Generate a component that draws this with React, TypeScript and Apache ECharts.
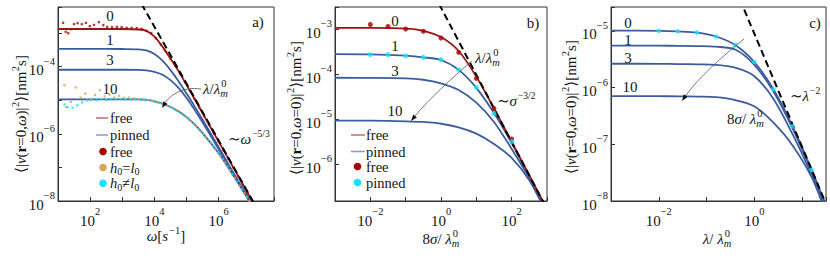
import React, { useEffect, useRef } from 'react';
import * as echarts from 'echarts';

// ---------------- data (log10 values) ----------------
// Panel a: log10(omega) and log10(<|v|^2>)
const aLogOmega = [1, 2, 3, 3.5, 3.75, 4, 4.25, 4.5, 4.75, 5, 5.25, 5.5, 6, 6.5, 7, 7.2];
const aFree0 = [-2.875, -2.875, -2.876, -2.89, -2.93, -3.1, -3.4, -3.76, -4.13, -4.54, -4.96, -5.39, -6.23, -7.08, -7.93, -8.27];
const aPinned1 = [-3.47, -3.47, -3.472, -3.48, -3.51, -3.62, -3.82, -4.1, -4.43, -4.8, -5.18, -5.58, -6.4, -7.23, -8.02, -8.36];
const aPinned3 = [-4.09, -4.09, -4.09, -4.095, -4.11, -4.15, -4.24, -4.4, -4.63, -4.93, -5.28, -5.66, -6.46, -7.27, -8.05, -8.39];
const aPinned10 = [-4.97, -4.97, -4.97, -4.975, -4.99, -5.03, -5.1, -5.2, -5.33, -5.5, -5.72, -5.98, -6.58, -7.31, -8.08, -8.4];
const aDashedLogOmega = [3.6, 7.1];
const aDashed = [-2.13, -8.07];

const aFreeDotsLogOmega = [1.16, 1.24, 1.32, 1.4, 1.5, 1.61, 1.74, 1.87, 1.99, 2.12, 2.27, 2.41, 2.53, 2.68, 2.83, 2.98, 3.14, 3.29, 3.45, 3.6,
  3.75, 3.9, 4.05, 4.2, 4.35, 4.5, 4.65, 4.8, 4.95, 5.1, 5.25, 5.4, 5.55, 5.7, 5.85, 6.0, 6.15, 6.3, 6.45, 6.6, 6.75, 6.9, 7.05];
const aFreeDots = [-2.69, -2.96, -3.0, -2.88, -2.73, -2.7, -2.73, -2.69, -2.79, -2.75, -2.67, -2.76, -2.81, -2.82, -2.81, -2.82, -2.84, -2.84, -2.85, -2.87,
  -2.93, -3.0, -3.15, -3.34, -3.54, -3.76, -3.98, -4.21, -4.46, -4.71, -4.96, -5.22, -5.47, -5.73, -5.98, -6.23, -6.49, -6.74, -7.0, -7.25, -7.51, -7.76, -8.01];

const aEqDotsLogOmega = [1.2, 1.25, 1.4, 1.55, 1.7, 1.85, 2.0, 2.15, 2.3, 2.45, 2.6, 2.75, 2.9, 3.05, 3.2, 3.35, 3.5, 3.65,
  3.8, 3.95, 4.1, 4.25, 4.4, 4.55, 4.7, 4.85, 5.0, 5.15, 5.3, 5.45, 5.6, 5.75, 5.9, 6.05, 6.2, 6.35, 6.5, 6.65, 6.8, 6.95];
const aEqDots = [-4.55, -5.2, -5.05, -4.62, -4.92, -4.8, -5.0, -4.84, -4.7, -4.88, -4.83, -4.92, -4.87, -4.93, -4.92, -4.95, -4.96, -4.97,
  -4.99, -5.02, -5.06, -5.1, -5.16, -5.22, -5.31, -5.4, -5.5, -5.63, -5.77, -5.93, -6.1, -6.28, -6.46, -6.65, -6.86, -7.08, -7.31, -7.54, -7.77, -8.0];

const aNeqDotsLogOmega = [1.2, 1.3, 1.45, 1.6, 1.75, 1.9, 2.05, 2.2, 2.35, 2.5, 2.65, 2.8, 2.95, 3.1, 3.25, 3.4, 3.55, 3.7,
  3.875, 4.025, 4.175, 4.325, 4.475, 4.625, 4.775, 4.925, 5.075, 5.225, 5.375, 5.525, 5.675, 5.825, 5.975, 6.125, 6.275, 6.425, 6.575, 6.725, 6.875];
const aNeqDots = [-5.12, -5.2, -5.22, -5.15, -5.06, -5.0, -4.97, -5.0, -4.96, -4.98, -4.96, -4.97, -4.96, -4.97, -4.97, -4.97, -4.98, -4.98,
  -5.0, -5.04, -5.08, -5.13, -5.19, -5.26, -5.35, -5.45, -5.56, -5.7, -5.85, -6.01, -6.19, -6.37, -6.56, -6.75, -6.97, -7.2, -7.42, -7.65, -7.88];

// Panel b: log10(8 sigma / lambda_m^0)
const bLogSigma = [-3, -2, -1, -0.5, 0, 0.5, 1, 1.5, 2, 2.5, 3];
const bFree0 = [-2.965, -2.966, -2.98, -3.03, -3.17, -3.48, -4.05, -4.76, -5.5, -6.25, -7.0];
const bPinned1 = [-3.55, -3.555, -3.585, -3.62, -3.68, -3.9, -4.3, -4.86, -5.53, -6.27, -7.03];
const bPinned3 = [-4.075, -4.078, -4.09, -4.12, -4.2, -4.35, -4.63, -5.06, -5.66, -6.31, -7.06];
const bPinned10 = [-5.03, -5.032, -5.045, -5.06, -5.1, -5.18, -5.32, -5.55, -5.86, -6.36, -7.12];
const bDashedLogSigma = [-0.05, 3];
const bDashed = [-2.44, -7.0];
const bDotsLogSigma = [-2, -1.5, -1, -0.5, 0, 0.5, 1, 1.5, 2];
const bFreeDots = [-2.89, -2.93, -2.99, -3.04, -3.19, -3.51, -4.09, -4.76, -5.44];
const bPinnedDots = [-3.56, -3.56, -3.59, -3.62, -3.67, -3.9, -4.29, -4.87, -5.5];

// Panel c: log10(lambda / lambda_m^0)
const cLogLambda = [-3, -2, -1.6, -1.2, -0.8, -0.4, 0, 0.4, 0.8, 1.2, 1.5];
const c0 = [-4.995, -5.0, -5.01, -5.03, -5.1, -5.25, -5.55, -6.03, -6.68, -7.45, -8.08];
const c1 = [-5.26, -5.262, -5.264, -5.268, -5.28, -5.33, -5.6, -6.07, -6.72, -7.48, -8.11];
const c3 = [-5.58, -5.582, -5.586, -5.59, -5.6, -5.65, -5.8, -6.2, -6.82, -7.54, -8.16];
const c10 = [-6.15, -6.152, -6.155, -6.16, -6.17, -6.22, -6.33, -6.62, -7.02, -7.58, -8.22];
const cDashedLogLambda = [-0.3, 1.5];
const cDashed = [-4.45, -8.05];
const cDotsLogLambda = [-2, -1.6, -1.2, -0.8, -0.4, 0, 0.4, 0.8, 1.2];
const cDots = [-5.0, -5.01, -5.03, -5.1, -5.25, -5.55, -6.03, -6.68, -7.45];

// ---------------- styling helpers ----------------
const FAMILY = "'Liberation Serif', 'DejaVu Serif', serif";
const INK = '#151515';
const RED = '#9a1414';
const BLUE = '#3d5c9e';
const RED_DOT = '#a80000';
const ORANGE = '#d9a552';
const CYAN = '#12e2ff';

let mctx: CanvasRenderingContext2D | null = null;
const fontStr = (size: number, it: boolean, bold: boolean) => `${it ? 'italic ' : ''}${bold ? 'bold ' : ''}${size}px ${FAMILY}`;
function tw(t: string, size: number, it: boolean, bold: boolean) {
  if (!mctx) mctx = document.createElement('canvas').getContext('2d');
  if (!mctx) return t.length * size * 0.5;
  mctx.font = fontStr(size, it, bold);
  return mctx.measureText(t).width;
}

type Seg = { t: string; i?: boolean; b?: boolean; sup?: string; sub?: string; ss?: number };
function math(x: number, y: number, segs: Seg[], size = 15, align: 'left' | 'center' | 'right' = 'left', rotation = 0): any {
  const small = size * 0.7;
  const items: any[] = [];
  let cx = 0;
  for (const s of segs) {
    if (s.t) {
      items.push({ t: s.t, x: cx, y: 0, size, it: !!s.i, bold: !!s.b });
      cx += tw(s.t, size, !!s.i, !!s.b);
    }
    let adv = 0;
    const sz = s.ss ?? small;
    if (s.sup) {
      const ox = s.i ? 1 : 0.5;
      items.push({ t: s.sup, x: cx + ox, y: -size * 0.36, size: sz, it: false, bold: false });
      adv = Math.max(adv, tw(s.sup, sz, false, false) + ox);
    }
    if (s.sub) {
      const it = /[a-z]/i.test(s.sub);
      items.push({ t: s.sub, x: cx, y: size * 0.3, size: small, it, bold: false });
      adv = Math.max(adv, tw(s.sub, small, it, false));
    }
    cx += adv;
  }
  const off = align === 'center' ? -cx / 2 : align === 'right' ? -cx : 0;
  return {
    type: 'group', x, y, rotation, silent: true, z: 100,
    children: items.map((it) => ({
      type: 'text', x: it.x + off, y: it.y, z: 100,
      style: {
        text: it.t, fill: INK, fontFamily: FAMILY, fontSize: it.size,
        fontStyle: it.it ? 'italic' : 'normal', fontWeight: it.bold ? 'bold' : 'normal',
        textAlign: 'left', textVerticalAlign: 'middle',
      },
    })),
  };
}

function arrow(x1: number, y1: number, cx1: number, cy1: number, cx2: number, cy2: number, x2: number, y2: number): any[] {
  const ang = Math.atan2(y2 - cy2, x2 - cx2);
  const L = 6.5, W = 2.3;
  const bx = x2 - L * Math.cos(ang), by = y2 - L * Math.sin(ang);
  const px = -Math.sin(ang) * W, py = Math.cos(ang) * W;
  return [
    { type: 'bezierCurve', silent: true, z: 90, shape: { x1, y1, cpx1: cx1, cpy1: cy1, cpx2: cx2, cpy2: cy2, x2: bx, y2: by }, style: { stroke: '#555', lineWidth: 0.8, fill: 'none' } },
    { type: 'polygon', silent: true, z: 90, shape: { points: [[x2, y2], [bx + px, by + py], [bx - px, by - py]] }, style: { fill: '#111' } },
  ];
}

const expLabel = (every: number) => (v: number) => {
  const r = Math.round(v);
  if (Math.abs(v - r) > 1e-6 || r % every !== 0) return '';
  const e = r < 0 ? '\u2212' + Math.abs(r) : String(r);
  return `{b|10}{s|${e}}`;
};
const labelRich = {
  b: { fontFamily: FAMILY, fontSize: 15, color: INK, lineHeight: 22, verticalAlign: 'bottom' },
  s: { fontFamily: FAMILY, fontSize: 10.5, color: INK, lineHeight: 11, verticalAlign: 'top' },
};
const axisCommon = {
  type: 'value',
  axisLine: { show: true, onZero: false, lineStyle: { color: '#333', width: 1 } },
  axisTick: { show: true, inside: true, length: 4, lineStyle: { color: '#333', width: 1 } },
  splitLine: { show: false },
};

const pairs = (xs: number[], ys: number[]) => xs.map((x, i) => [x, ys[i]]);
const lineS = (g: number, xs: number[], ys: number[], color: string, width = 1.8, dashed = false, z = 3) => ({
  type: 'line', xAxisIndex: g, yAxisIndex: g, data: pairs(xs, ys), smooth: 0.3,
  symbol: 'none', silent: true, z, lineStyle: { color, width, type: dashed ? [7, 4] : 'solid' },
});
const dotS = (g: number, xs: number[], ys: number[], color: string, size: number, symbol = 'circle') => ({
  type: 'scatter', xAxisIndex: g, yAxisIndex: g, data: pairs(xs, ys), symbol, symbolSize: size,
  silent: true, z: 6, itemStyle: { color },
});

const yNameSegs = (w0: boolean): Seg[] => [
  { t: '\u27E8|' }, { t: 'v', i: true }, { t: '(' }, { t: 'r', b: true }, { t: '=0,' }, { t: '\u03C9', i: true },
  { t: w0 ? '=0)|' : ')|', sup: '2' }, { t: '\u27E9[nm', sup: '2' }, { t: 's]' },
];
const lamRatio: Seg[] = [{ t: '\u03BB', i: true }, { t: '/' }, { t: '\u03BB', i: true, sup: '0', sub: 'm' }];

function buildOption(): any {
  const graphics: any[] = [
    // y axis names
    math(21, 114, yNameSegs(false), 15, 'center', Math.PI / 2),
    math(296, 108, yNameSegs(true), 15, 'center', Math.PI / 2),
    math(571, 107, yNameSegs(true), 15, 'center', Math.PI / 2),
    // x axis names
    math(166, 236, [{ t: '\u03C9', i: true }, { t: '[' }, { t: 's', i: true, sup: '\u22121' }, { t: ']' }], 15, 'center'),
    math(441, 239, [{ t: '8' }, { t: '\u03C3', i: true }, { t: '/ ' }, { t: '\u03BB', i: true, sup: '0', sub: 'm' }], 15, 'center'),
    math(717, 239, [{ t: '\u03BB', i: true }, { t: '/ ' }, { t: '\u03BB', i: true, sup: '0', sub: 'm' }], 15, 'center'),
    // panel tags
    math(258, 22, [{ t: 'a)' }], 15, 'center'),
    math(533, 23, [{ t: 'b)' }], 15, 'center'),
    math(815, 23, [{ t: 'c)' }], 15, 'center'),
    // curve numbers a
    math(110, 16, [{ t: '0' }], 15, 'center'),
    math(110, 39.5, [{ t: '1' }], 15, 'center'),
    math(110, 60, [{ t: '3' }], 15, 'center'),
    math(110, 89, [{ t: '10' }], 15, 'center'),
    // curve numbers b
    math(395, 21, [{ t: '0' }], 15, 'center'),
    math(395, 46, [{ t: '1' }], 15, 'center'),
    math(395, 71, [{ t: '3' }], 15, 'center'),
    math(395, 111, [{ t: '10' }], 15, 'center'),
    // curve numbers c
    math(628, 23, [{ t: '0' }], 15, 'center'),
    math(628, 40, [{ t: '1' }], 15, 'center'),
    math(628, 58, [{ t: '3' }], 15, 'center'),
    math(630, 87, [{ t: '10' }], 15, 'center'),
    // arrow labels
    math(203, 89, lamRatio, 15, 'left'),
    math(475, 58, lamRatio, 15, 'left'),
    math(727, 119, [{ t: '8' }, { t: '\u03C3', i: true }, { t: '/ ' }, { t: '\u03BB', i: true, sup: '0', sub: 'm' }], 15, 'left'),
    // power laws
    math(228, 139, [{ t: '\u223C' }, { t: '\u03C9', i: true, sup: '\u22125/3', ss: 9.5 }], 15, 'left'),
    math(497, 101, [{ t: '\u223C' }, { t: '\u03C3', i: true, sup: '\u22123/2', ss: 9.5 }], 15, 'left'),
    math(790, 96, [{ t: '\u223C' }, { t: '\u03BB', i: true, sup: '\u22122', ss: 9.5 }], 15, 'left'),
    // arrows
    ...arrow(201, 89, 184, 86, 170, 95, 162, 108),
    ...arrow(472, 61, 452, 78, 428, 100, 411, 121),
    ...arrow(744, 39, 724, 55, 698, 78, 682, 101),
    // legend a
    { type: 'line', silent: true, z: 100, shape: { x1: 96, y1: 118, x2: 108, y2: 118 }, style: { stroke: '#c46a6a', lineWidth: 1.5 } },
    math(110, 118, [{ t: 'free' }], 14.5),
    { type: 'line', silent: true, z: 100, shape: { x1: 96, y1: 135, x2: 108, y2: 135 }, style: { stroke: '#8a98cc', lineWidth: 1.5 } },
    math(110, 135, [{ t: 'pinned' }], 14.5),
    { type: 'circle', silent: true, z: 100, shape: { cx: 103, cy: 151.5, r: 3.8 }, style: { fill: RED_DOT } },
    math(110, 151.5, [{ t: 'free' }], 14.5),
    { type: 'circle', silent: true, z: 100, shape: { cx: 103, cy: 167.5, r: 3.8 }, style: { fill: ORANGE } },
    math(110, 167.5, [{ t: 'h', i: true, sub: '0' }, { t: '=' }, { t: 'l', i: true, sub: '0' }], 14.5),
    { type: 'circle', silent: true, z: 100, shape: { cx: 103, cy: 183.3, r: 3.8 }, style: { fill: CYAN } },
    math(110, 183.3, [{ t: 'h', i: true, sub: '0' }, { t: '\u2260' }, { t: 'l', i: true, sub: '0' }], 14.5),
    // legend b
    { type: 'line', silent: true, z: 100, shape: { x1: 351, y1: 135, x2: 365, y2: 135 }, style: { stroke: '#c46a6a', lineWidth: 1.5 } },
    math(366, 135, [{ t: 'free' }], 14.5),
    { type: 'line', silent: true, z: 100, shape: { x1: 351, y1: 151.5, x2: 365, y2: 151.5 }, style: { stroke: '#8a98cc', lineWidth: 1.5 } },
    math(366, 151.5, [{ t: 'pinned' }], 14.5),
    { type: 'circle', silent: true, z: 100, shape: { cx: 357.5, cy: 166.5, r: 3.8 }, style: { fill: RED_DOT } },
    math(366, 166.5, [{ t: 'free' }], 14.5),
    { type: 'circle', silent: true, z: 100, shape: { cx: 357.5, cy: 182.5, r: 3.8 }, style: { fill: CYAN } },
    math(366, 182.5, [{ t: 'pinned' }], 14.5),
  ];

  const gridBase = { show: true, borderColor: '#333', borderWidth: 1, backgroundColor: 'transparent', containLabel: false, outerBoundsMode: 'none' };
  const xLab = (every: number) => ({ show: true, margin: 5, formatter: expLabel(every), rich: labelRich, fontFamily: FAMILY });
  const yLab = (every: number) => ({ show: true, margin: 3, formatter: expLabel(every), rich: labelRich, fontFamily: FAMILY });

  return {
    animation: false,
    backgroundColor: '#ffffff',
    textStyle: { fontFamily: FAMILY },
    grid: [
      { ...gridBase, left: 58, top: 7, width: 216, height: 194 },
      { ...gridBase, left: 335, top: 7, width: 212, height: 194 },
      { ...gridBase, left: 611, top: 7, width: 215, height: 194 },
    ],
    xAxis: [
      { ...axisCommon, gridIndex: 0, min: 1, max: 7.72, interval: 1, axisLabel: xLab(2) },
      { ...axisCommon, gridIndex: 1, min: -3, max: 3, interval: 1, axisLabel: xLab(2) },
      { ...axisCommon, gridIndex: 2, min: -3, max: 1.5, interval: 1, axisLabel: xLab(2) },
    ],
    yAxis: [
      { ...axisCommon, gridIndex: 0, min: -8, max: -2.22, interval: 1, axisLabel: yLab(2) },
      { ...axisCommon, gridIndex: 1, min: -6.82, max: -2.5, minInterval: 1, maxInterval: 1, axisLabel: yLab(1) },
      { ...axisCommon, gridIndex: 2, min: -8, max: -4.58, interval: 1, axisLabel: yLab(1) },
    ],
    series: [
      // panel a
      lineS(0, aLogOmega, aPinned10, BLUE),
      lineS(0, aLogOmega, aPinned3, BLUE),
      lineS(0, aLogOmega, aPinned1, BLUE),
      lineS(0, aLogOmega, aFree0, RED),
      dotS(0, aEqDotsLogOmega, aEqDots, ORANGE, 2.6),
      dotS(0, aNeqDotsLogOmega, aNeqDots, CYAN, 2.6),
      dotS(0, aFreeDotsLogOmega, aFreeDots, RED_DOT, 2.6),
      lineS(0, aDashedLogOmega, aDashed, '#000', 2, true, 7),
      // panel b
      lineS(1, bLogSigma, bPinned10, BLUE),
      lineS(1, bLogSigma, bPinned3, BLUE),
      lineS(1, bLogSigma, bPinned1, BLUE),
      lineS(1, bLogSigma, bFree0, RED),
      lineS(1, bDashedLogSigma, bDashed, '#000', 2, true, 5),
      dotS(1, bDotsLogSigma, bFreeDots, RED_DOT, 5),
      dotS(1, bDotsLogSigma, bPinnedDots, CYAN, 5),
      // panel c
      lineS(2, cLogLambda, c10, BLUE),
      lineS(2, cLogLambda, c3, BLUE),
      lineS(2, cLogLambda, c1, BLUE),
      lineS(2, cLogLambda, c0, BLUE),
      lineS(2, cDashedLogLambda, cDashed, '#000', 2, true, 5),
      dotS(2, cDotsLogLambda, cDots, CYAN, 4.5),
    ],
    graphic: { elements: graphics },
  };
}

export default function App() {
  const ref = useRef<HTMLDivElement>(null);
  useEffect(() => {
    if (!ref.current) return;
    const chart = echarts.init(ref.current, undefined, { renderer: 'svg' });
    chart.setOption(buildOption());
    return () => chart.dispose();
  }, []);
  return (
    <div
      ref={ref}
      style={{ position: 'fixed', left: 0, top: 0, width: 830, height: 259, background: '#fff' }}
    />
  );
}
